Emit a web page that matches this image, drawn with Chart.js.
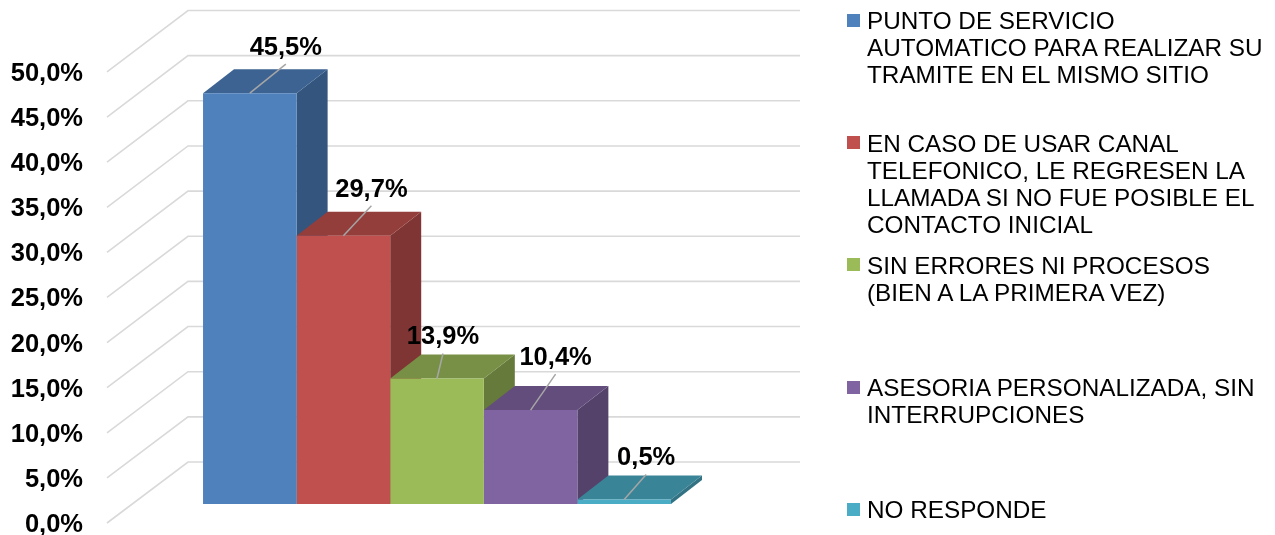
<!DOCTYPE html>
<html>
<head>
<meta charset="utf-8">
<script src="https://cdn.jsdelivr.net/npm/chart.js@4.4.1/dist/chart.umd.min.js"></script>
<style>
  html, body { margin: 0; padding: 0; background: #fff; }
  #wrap { position: relative; width: 1275px; height: 535px; overflow: hidden; }
  #chart { position: absolute; left: 0; top: 0; }
  #legend {
    position: absolute; left: 847px; top: 7.3px;
    font-family: "Liberation Sans", Arial, sans-serif;
    font-size: 24.3px; line-height: 27px; color: #000;
  }
  .lg-item { position: relative; height: 122.3px; padding-left: 20px; }
  .lg-box { position: absolute; left: 0; top: 6.5px; width: 13px; height: 13px; }
  .lg-line { white-space: nowrap; }
</style>
</head>
<body>
<div id="wrap">
  <canvas id="chart" width="1275" height="535"></canvas>
  <div id="legend"></div>
</div>
<script>
/* ── DATA ── */
var SERIES = [
  ["PUNTO DE SERVICIO", "AUTOMATICO PARA REALIZAR SU", "TRAMITE EN EL MISMO SITIO"],
  ["EN CASO DE USAR CANAL", "TELEFONICO, LE REGRESEN LA", "LLAMADA SI NO FUE POSIBLE EL", "CONTACTO INICIAL"],
  ["SIN ERRORES NI PROCESOS", "(BIEN A LA PRIMERA VEZ)"],
  ["ASESORIA PERSONALIZADA, SIN", "INTERRUPCIONES"],
  ["NO RESPONDE"]
];
var VALUES = [45.5, 29.7, 13.9, 10.4, 0.5];
var Y_TICKS = [0, 5, 10, 15, 20, 25, 30, 35, 40, 45, 50];

/* ── STYLE ── */
var COLORS = ["#4F81BD", "#C0504D", "#9BBB59", "#8064A2", "#4BACC6"];
var LABEL_OFFSETS = [[36, -29], [28, -30], [6, -25], [25, -36], [22, -25]]; // leader end, from bar top centre
var DEPTH = { dx: 31, dy: 24 };
var WALL = { frontX: 107, backX: 188, rightX: 800, frontDrop: 19, frontK: 0.999, backRise: 42, backK: 1.0 };
var FONT = '"Liberation Sans", Arial, sans-serif';

function shade(hex, f) {
  var n = parseInt(hex.slice(1), 16);
  var r = Math.round(((n >> 16) & 255) * f), g = Math.round(((n >> 8) & 255) * f), b = Math.round((n & 255) * f);
  return "rgb(" + r + "," + g + "," + b + ")";
}
function fmt(v) { return v.toFixed(1).replace(".", ",") + "%"; }

/* ── legend (html) ── */
var lg = document.getElementById("legend");
SERIES.forEach(function (lines, i) {
  var item = document.createElement("div");
  item.className = "lg-item";
  var box = document.createElement("div");
  box.className = "lg-box";
  box.style.background = COLORS[i];
  item.appendChild(box);
  lines.forEach(function (t) {
    var d = document.createElement("div");
    d.className = "lg-line";
    d.textContent = t;
    item.appendChild(d);
  });
  lg.appendChild(item);
});

/* ── 3D walls + bar sides/tops ── */
var threeD = {
  id: "threeD",
  beforeDatasetsDraw: function (chart) {
    var ctx = chart.ctx, a = chart.chartArea, ys = chart.scales.y;
    ctx.save();
    ctx.strokeStyle = "#D9D9D9";
    ctx.lineWidth = 1.6;
    Y_TICKS.forEach(function (v) {
      var d = a.bottom - ys.getPixelForValue(v);
      var yf = a.bottom + WALL.frontDrop - d * WALL.frontK;
      var yb = a.bottom - WALL.backRise - d * WALL.backK;
      ctx.beginPath();
      ctx.moveTo(WALL.frontX, yf);
      ctx.lineTo(WALL.backX, yb);
      ctx.lineTo(WALL.rightX, yb);
      ctx.stroke();
    });
    chart.data.datasets.forEach(function (ds, i) {
      var el = chart.getDatasetMeta(i).data[0];
      if (!el) return;
      var p = el.getProps(["x", "y", "base", "width"], true);
      var x0 = p.x - p.width / 2, x1 = p.x + p.width / 2, yt = p.y, yb = p.base;
      var dx = DEPTH.dx, dy = DEPTH.dy;
      ctx.fillStyle = shade(COLORS[i], 0.66);
      ctx.beginPath();
      ctx.moveTo(x1, yt); ctx.lineTo(x1 + dx, yt - dy); ctx.lineTo(x1 + dx, yb - dy); ctx.lineTo(x1, yb);
      ctx.closePath(); ctx.fill();
      ctx.fillStyle = shade(COLORS[i], 0.77);
      ctx.beginPath();
      ctx.moveTo(x0, yt); ctx.lineTo(x1, yt); ctx.lineTo(x1 + dx, yt - dy); ctx.lineTo(x0 + dx, yt - dy);
      ctx.closePath(); ctx.fill();
    });
    ctx.restore();
  },
  afterDatasetsDraw: function (chart) {
    var ctx = chart.ctx, a = chart.chartArea, ys = chart.scales.y;
    ctx.save();
    ctx.fillStyle = "#000";
    ctx.font = "bold 25.5px " + FONT;
    ctx.textAlign = "right";
    ctx.textBaseline = "alphabetic";
    Y_TICKS.forEach(function (v) {
      var d = a.bottom - ys.getPixelForValue(v);
      var yf = a.bottom + WALL.frontDrop - d * WALL.frontK;
      ctx.fillText(fmt(v), 83, yf + 9);
    });
    ctx.textAlign = "center";
    chart.data.datasets.forEach(function (ds, i) {
      var el = chart.getDatasetMeta(i).data[0];
      if (!el) return;
      var p = el.getProps(["x", "y"], true);
      var ex = p.x + LABEL_OFFSETS[i][0], ey = p.y + LABEL_OFFSETS[i][1];
      ctx.strokeStyle = "#A6A6A6";
      ctx.lineWidth = 1.5;
      ctx.beginPath();
      ctx.moveTo(p.x, p.y);
      ctx.lineTo(ex, ey);
      ctx.stroke();
      ctx.fillText(fmt(ds.data[0]), ex, ey - 9);
    });
    ctx.restore();
  }
};

new Chart(document.getElementById("chart"), {
  type: "bar",
  data: {
    labels: [""],
    datasets: SERIES.map(function (lines, i) {
      return {
        label: lines.join(" "),
        data: [VALUES[i]],
        backgroundColor: COLORS[i],
        borderWidth: 0,
        categoryPercentage: 0.709,
        barPercentage: 1.0
      };
    })
  },
  options: {
    responsive: false,
    animation: false,
    devicePixelRatio: 1,
    layout: { padding: { left: 107, right: 508, top: 52.5, bottom: 31 } },
    plugins: { legend: { display: false }, tooltip: { enabled: false } },
    scales: {
      x: { display: false },
      y: { display: false, min: 0, max: 50 }
    }
  },
  plugins: [threeD]
});
</script>
</body>
</html>
